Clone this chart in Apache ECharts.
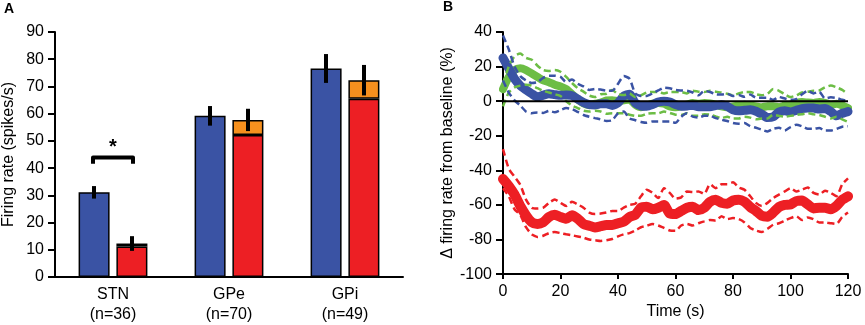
<!DOCTYPE html>
<html>
<head>
<meta charset="utf-8">
<script src="https://cdn.jsdelivr.net/npm/echarts@6/dist/echarts.min.js"></script>
<style>
  html, body { margin: 0; padding: 0; background: #fff; }
  #chart { width: 865px; height: 325px; }
</style>
</head>
<body>
<div id="chart"></div>
<script>
// panel A: firing rates
const regions = ['STN\n(n=36)', 'GPe\n(n=70)', 'GPi\n(n=49)'];
const blueRate = [31.1, 59.2, 76.6];
const blueSem = [2.3, 3.6, 5.3];
const redRate = [11.2, 52.2, 65.5];
const orangeRate = [1.1, 5.5, 6.8];
const redSem = [2.7, 4.1, 5.6];
const rateTicks = [0, 90, 10];
// significance bracket: [category, foot, bar, star]
const sigBracket = [[0, 41.6, 43.9, 47.5]];

// panel B: change from baseline (%)
const timeSec = [0, 2, 4, 6, 8, 10, 12, 14, 16, 18, 20, 22, 24, 26, 28, 30, 32, 34, 36, 38, 40,
  42, 44, 46, 48, 50, 52, 54, 56, 58, 60, 62, 64, 66, 68, 70, 72, 74, 76, 78, 80,
  82, 84, 86, 88, 90, 92, 94, 96, 98, 100, 102, 104, 106, 108, 110, 112, 114, 116, 118, 120];

const blueMean = [25, 19, 13, 9, 6.5, 4.3, 2.5, 3.5, 4.3, 3.8, 3.4, 3.6, 3.2, 1.2, -0.8, -2, -2.2, -1.5, -1.5, -2.5, -1,
  3, 4, -1, -2.8, -3, -2, -0.5, 0, -0.5, -2, -3, -2.8, -2.3, -3.2, -3.2, -3.2, -2.5, -2, -3, -5,
  -5.6, -5.3, -5, -5.8, -7.5, -9.5, -9, -6.3, -5.6, -6.2, -5.3, -4.3, -3.9, -4, -4.5, -4.3, -6, -8.5, -7, -6];
const blueUpper = [38, 30, 20, 14.5, 12, 10.5, 11, 13.5, 14.7, 14.7, 14, 11, 12.5, 10, 8.5, 6.5, 7, 6.7, 6, 6, 10,
  14.5, 13, 4.5, 3, 3, 4.5, 6.2, 7.8, 7.5, 6.5, 6.2, 6, 5, 3.4, 6, 5.3, 4, 3.8, 4.3, 3,
  3.5, 2.5, 3.8, 2, 2, 2, 0.8, 2.4, 1.5, 0.8, 1.2, 4, 6, 4.5, 5.5, 1.5, 2.2, 1.8, 0.8, 0];
const blueLower = [12, 5, 0.5, -2.5, -6, -7, -6.5, -6.8, -5.6, -6.4, -5.2, -4, -4.5, -6.2, -8, -9, -9.8, -10.5, -11.5, -11, -7,
  -6, -10, -11, -12, -12.5, -11.7, -11.7, -11.7, -11.7, -12.5, -9, -7, -8.9, -9.5, -8.5, -8.5, -9.8, -10.7, -11.5, -12.6,
  -13, -12.6, -14.5, -15.4, -16.5, -17.5, -16, -15.4, -17, -15, -13.6, -14.5, -16, -16, -15.5, -17, -17, -16, -14.8, -14.5];

const greenMean = [7, 14, 18, 19, 18, 16, 14, 12, 11, 9.5, 8.5, 7, 4, 1, -1.3, -2.3, -1.5, -0.8, 0.4, 0.6, 0,
  0.5, 1, -2, -3.5, -2.5, -1.5, -1, -1.5, -3, -3.5, -3, -2, -1, -1.5, -1, -1.3, -2, -3, -3.5, -3,
  -2.5, -2, -2.5, -3, -3.5, -3, -3, -3.5, -2.5, -2, -1, -0.5, -0.8, -1, -0.5, -1, -2, -1.5, -2.5, -4];
const greenUpper = [10, 20, 26, 27.5, 25, 24, 20.5, 18, 17.5, 18, 17, 14, 10.5, 7.5, 5.5, 3.2, 2.4, 4, 4.3, 6.5, 4,
  3.5, 4.5, 2.4, 3.4, 5, 5.3, 5.3, 4.5, 5.3, 5.3, 5.3, 4.5, 6, 5.5, 5.3, 6, 5.5, 5, 4.3, 3.4,
  4.5, 5.3, 5.3, 4, 3.4, 4.3, 7, 6, 4, 2.4, 3.3, 5, 5.5, 6, 6.2, 8, 9, 8, 6.5, 4];
const greenLower = [-3, 5, 8, 9, 9.5, 9, 7.5, 6, 5, 4, 3, 0, -2.5, -4, -5.5, -6, -5.6, -6, -7.3, -7, -7,
  -7, -7.8, -8.5, -8.5, -7.3, -7, -7, -6, -6.8, -7.8, -8, -7, -8.5, -8.5, -7.5, -7.8, -8.8, -9.8, -9, -10,
  -10, -9, -9.5, -10.5, -10, -10, -7.8, -8.5, -9, -8.5, -8, -7.5, -7, -7.5, -8, -9, -10, -9, -10.5, -12];

const redMean = [-45, -49, -54, -60.6, -66, -70, -71, -70, -67, -65.7, -67, -68, -66, -68, -71, -72, -73, -72.3, -71.6, -71.6, -70.6,
  -69.7, -67, -65.7, -61.6, -61, -62.5, -61.6, -60, -65, -65.3, -63.5, -61.6, -61, -63, -61.6, -58.2, -57, -58.8, -59.3, -57.4,
  -57, -58.2, -61.2, -63.5, -66.3, -66.8, -64.4, -61.2, -60, -59.7, -57.8, -57.4, -59.7, -62, -61.6, -61.6, -62.5, -60.6, -57, -55];
const redUpper = [-27.7, -39, -43.7, -48.4, -56.9, -61.6, -62.1, -61.6, -58.8, -56.9, -58.8, -60.6, -58.2, -59.7, -61.6, -64.4, -65.3, -65, -64.4, -63.5, -63.5,
  -61.6, -60, -59.3, -55, -51.2, -53, -56, -50.3, -53, -56.3, -55.6, -52.2, -52.5, -52.2, -53.7, -48, -50.3, -48, -48, -46.9,
  -49.9, -51.2, -55, -58.8, -60.6, -58.8, -56, -54, -52.2, -50.3, -52.2, -51.2, -49.9, -53, -54, -51.8, -53, -55, -48, -44.6];
const redLower = [-50.3, -55, -62.5, -65.7, -72.9, -77, -78.5, -77.8, -76.3, -75.7, -76.3, -77, -77.6, -78.2, -78.9, -80, -80.4, -80.8, -80.4, -79.7, -78.2,
  -77, -76.3, -74.8, -72.9, -72.1, -71, -71.9, -73.3, -74.8, -75, -71.9, -71, -71.9, -70.6, -69.5, -68.7, -69.1, -66.5, -68.2, -67.6,
  -68.2, -70.1, -73.3, -74.8, -75.7, -73.8, -71.4, -70.6, -69.1, -67.6, -66.5, -68.7, -67.2, -68.2, -70.1, -70.1, -70.6, -71, -66.9, -64.4];

const BLUE = '#3a53a4';
const RED = '#ed1f24';
const ORANGE = '#f6901e';
const GREEN = '#6cbd45';
const FONT = 'Liberation Sans, Arial, sans-serif';

const pairs = (ys) => timeSec.map((t, i) => [t, ys[i]]);

const meanLine = (name, ys, color, width, z) => ({
  name, type: 'line', xAxisIndex: 1, yAxisIndex: 1,
  data: pairs(ys), showSymbol: false, symbol: 'none', smooth: 0.2, z,
  lineStyle: { color, width, cap: 'round', join: 'round' },
  silent: true, animation: false
});
const dashLine = (name, ys, color, z) => ({
  name, type: 'line', xAxisIndex: 1, yAxisIndex: 1,
  data: pairs(ys), showSymbol: false, symbol: 'none', smooth: 0.2, z,
  lineStyle: { color, width: 2.5, type: [7, 4] },
  silent: true, animation: false
});

// error bar drawn at bar centre (offset from category centre)
const errorBars = (rate, sem, extra, offset) => ({
  type: 'custom', xAxisIndex: 0, yAxisIndex: 0, z: 10, animation: false,
  data: rate.map((r, i) => [i, r + (extra ? extra[i] : 0) - sem[i], r + (extra ? extra[i] : 0) + sem[i]]),
  renderItem: (params, api) => {
    const lo = api.coord([api.value(0), api.value(1)]);
    const hi = api.coord([api.value(0), api.value(2)]);
    const x = lo[0] + offset;
    return {
      type: 'line',
      shape: { x1: x, y1: lo[1], x2: x, y2: hi[1] },
      style: { stroke: '#000', lineWidth: 4 }
    };
  }
});

const axisLineStyle = { show: true, lineStyle: { color: '#000', width: 2 } };
const labelStyle = { color: '#000', fontSize: 16, fontFamily: FONT };

const chart = echarts.init(document.getElementById('chart'), null, { renderer: 'canvas' });

chart.setOption({
  backgroundColor: '#fff',
  animation: false,
  title: [
    { text: 'A', left: 4, top: 2, padding: 0, textStyle: { fontSize: 14, fontWeight: 'bold', fontFamily: FONT, color: '#000' } },
    { text: 'B', left: 443, top: 0, padding: 0, textStyle: { fontSize: 14, fontWeight: 'bold', fontFamily: FONT, color: '#000' } }
  ],
  grid: [
    { left: 55, top: 32, width: 348, height: 246 },
    { left: 503, top: 32, width: 345, height: 246 }
  ],
  xAxis: [
    {
      gridIndex: 0, type: 'category', data: regions,
      axisLine: axisLineStyle, axisTick: { show: false },
      axisLabel: Object.assign({ margin: 8, lineHeight: 20 }, labelStyle)
    },
    {
      gridIndex: 1, type: 'value', min: 0, max: 120, interval: 20,
      name: 'Time (s)', nameLocation: 'middle', nameGap: 24,
      nameTextStyle: labelStyle,
      axisLine: Object.assign({ onZero: false }, axisLineStyle),
      axisTick: { show: true, length: 5, lineStyle: { color: '#000', width: 2 } },
      axisLabel: Object.assign({ margin: 9 }, labelStyle),
      splitLine: { show: false }
    }
  ],
  yAxis: [
    {
      gridIndex: 0, type: 'value', min: rateTicks[0], max: rateTicks[1], interval: rateTicks[2],
      name: 'Firing rate (spikes/s)', nameLocation: 'middle', nameGap: 38,
      nameTextStyle: labelStyle,
      axisLine: axisLineStyle,
      axisTick: { show: true, length: 7, lineStyle: { color: '#000', width: 2 } },
      axisLabel: Object.assign({ margin: 11 }, labelStyle),
      splitLine: { show: false }
    },
    {
      gridIndex: 1, type: 'value', min: -100, max: 40, interval: 20,
      name: 'Δ firing rate from baseline (%)', nameLocation: 'middle', nameGap: 44,
      nameTextStyle: labelStyle,
      axisLine: axisLineStyle,
      axisTick: { show: true, length: 7, lineStyle: { color: '#000', width: 2 } },
      axisLabel: Object.assign({ margin: 11 }, labelStyle),
      splitLine: { show: false }
    }
  ],
  series: [
    {
      name: 'blue', type: 'bar', xAxisIndex: 0, yAxisIndex: 0, stack: 'b',
      data: blueRate, barWidth: 31, barGap: '22%',
      itemStyle: { color: BLUE, borderColor: '#000', borderWidth: 1.5 }
    },
    {
      name: 'red', type: 'bar', xAxisIndex: 0, yAxisIndex: 0, stack: 'r',
      data: redRate, barWidth: 31, barGap: '22%',
      itemStyle: { color: RED, borderColor: '#000', borderWidth: 1.5 }
    },
    {
      name: 'orange', type: 'bar', xAxisIndex: 0, yAxisIndex: 0, stack: 'r',
      data: orangeRate, barWidth: 31, barGap: '22%',
      itemStyle: { color: ORANGE, borderColor: '#000', borderWidth: 1.5 }
    },
    errorBars(blueRate, blueSem, null, -19),
    errorBars(redRate, redSem, orangeRate, 19),
    {
      type: 'custom', xAxisIndex: 0, yAxisIndex: 0, z: 10, animation: false,
      data: sigBracket,
      renderItem: (params, api) => {
        const foot = api.coord([api.value(0), api.value(1)]);
        const top = api.coord([api.value(0), api.value(2)]);
        const star = api.coord([api.value(0), api.value(3)]);
        const cx = foot[0], half = 20;
        return {
          type: 'group',
          children: [
            {
              type: 'polyline',
              shape: { points: [[cx - half, foot[1]], [cx - half, top[1]], [cx + half, top[1]], [cx + half, foot[1]]] },
              style: { stroke: '#000', lineWidth: 4, fill: null, lineJoin: 'round' }
            },
            {
              type: 'text',
              style: { text: '*', x: cx, y: star[1], align: 'center', verticalAlign: 'middle',
                fontSize: 20, fontWeight: 'bold', fontFamily: FONT, fill: '#000' }
            }
          ]
        };
      }
    },
    meanLine('green', greenMean, GREEN, 8, 2),
    meanLine('blue mean', blueMean, BLUE, 9, 3),
    meanLine('red mean', redMean, RED, 10, 3),
    dashLine('green hi', greenUpper, GREEN, 4),
    dashLine('green lo', greenLower, GREEN, 4),
    dashLine('blue hi', blueUpper, BLUE, 5),
    dashLine('blue lo', blueLower, BLUE, 5),
    dashLine('red hi', redUpper, RED, 4),
    dashLine('red lo', redLower, RED, 4),
    {
      name: 'zero', type: 'line', xAxisIndex: 1, yAxisIndex: 1, z: 6,
      data: [[0, 0], [120, 0]], showSymbol: false, symbol: 'none',
      lineStyle: { color: '#000', width: 2 }, silent: true
    }
  ]
});
</script>
</body>
</html>
